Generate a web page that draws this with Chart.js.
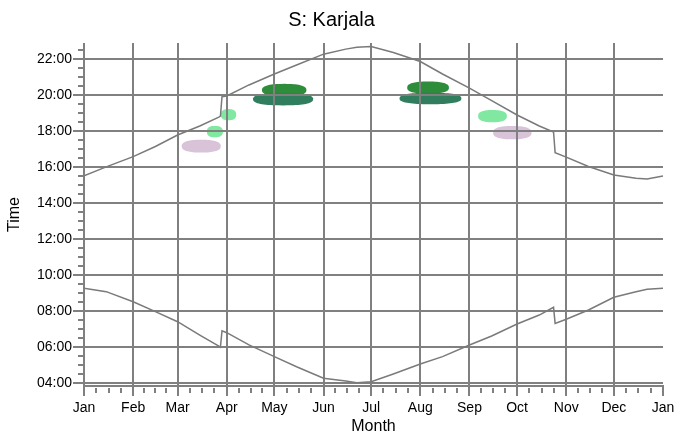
<!DOCTYPE html>
<html>
<head>
<meta charset="utf-8">
<script src="https://cdn.jsdelivr.net/npm/chart.js@4"></script>
<style>
    html, body { margin: 0; padding: 0; background: #fff; }
</style>
</head>
<body>
<canvas id="chart" width="675" height="436"></canvas>
<script>
//=================================================
//Data
//=================================================
const monthLabels = ["Jan", "Feb", "Mar", "Apr", "May", "Jun", "Jul", "Aug", "Sep", "Oct", "Nov", "Dec", "Jan"];
const monthStartDays = [0, 31, 59, 90, 120, 151, 181, 212, 243, 273, 304, 334, 365];
const timeTicks = [4, 6, 8, 10, 12, 14, 16, 18, 20, 22];

// day of year -> hours (sunset, local time)
const sunsetDays = [0, 14, 31, 45, 59, 73, 85, 86, 87, 90, 104, 120, 134, 151, 165, 172, 181, 195, 212, 226, 243, 257, 273, 287, 296, 297, 304, 318, 334, 348, 355, 365];
const sunsetTimes = [15.52, 16.02, 16.59, 17.15, 17.79, 18.29, 18.78, 18.84, 19.92, 19.96, 20.57, 21.18, 21.68, 22.28, 22.56, 22.67, 22.70, 22.37, 21.87, 21.18, 20.39, 19.70, 18.90, 18.29, 17.96, 16.81, 16.56, 16.04, 15.57, 15.39, 15.35, 15.52];

// day of year -> hours (sunrise, local time)
const sunriseDays = [0, 14, 31, 45, 59, 73, 85, 86, 87, 90, 104, 120, 134, 151, 165, 172, 181, 195, 212, 226, 243, 257, 273, 287, 296, 297, 304, 318, 334, 348, 355, 365];
const sunriseTimes = [9.28, 9.09, 8.53, 7.98, 7.42, 6.68, 6.06, 6.00, 6.91, 6.81, 6.13, 5.48, 4.92, 4.28, 4.13, 4.03, 4.09, 4.52, 5.07, 5.48, 6.13, 6.63, 7.29, 7.79, 8.22, 7.33, 7.56, 8.07, 8.78, 9.09, 9.22, 9.28];

// observation blobs: centre (day, hour) and extent (days, hours)
const blobDays = [73.9, 82.5, 91.1, 126.2, 125.5, 216.9, 218.4, 257.5, 270.0];
const blobTimes = [17.17, 17.98, 18.92, 20.28, 19.78, 20.42, 19.82, 18.84, 17.92];
const blobSpanDays = [24.6, 10.1, 9.7, 28.0, 37.9, 26.3, 39.0, 18.1, 24.2];
const blobSpanHours = [0.71, 0.63, 0.62, 0.70, 0.69, 0.68, 0.64, 0.68, 0.74];
const blobColors = ["#d8c3d8", "#80e8a0", "#80e8a0", "#2e8d3a", "#307e5e", "#2e8d3a", "#307e5e", "#80e8a0", "#d8c3d8"];

//=================================================
//Plugins
//=================================================
const GRID = "#808080";
const FONT = "'Liberation Sans', Arial, sans-serif";

// rounded, flat-topped blob (superellipse)
const blobPath = (ctx, cx, cy, rx, ry) => {
    const n = 2.5;
    ctx.beginPath();
    for (let s = 0; s <= 72; s++) {
        const t = (s / 72) * Math.PI * 2;
        const c = Math.cos(t), sn = Math.sin(t);
        const px = cx + rx * Math.sign(c) * Math.pow(Math.abs(c), 2 / n);
        const py = cy + ry * Math.sign(sn) * Math.pow(Math.abs(sn), 2 / n);
        s === 0 ? ctx.moveTo(px, py) : ctx.lineTo(px, py);
    }
    ctx.closePath();
};

const blobPlugin = {
    id: "blobs",
    beforeDraw(chart) {
        const { ctx, scales: { x, y } } = chart;
        ctx.save();
        blobDays.forEach((d, i) => {
            const cx = x.getPixelForValue(d);
            const cy = y.getPixelForValue(blobTimes[i]);
            const rx = Math.abs(x.getPixelForValue(d + blobSpanDays[i] / 2) - cx);
            const ry = Math.abs(y.getPixelForValue(blobTimes[i] + blobSpanHours[i] / 2) - cy);
            ctx.fillStyle = blobColors[i];
            blobPath(ctx, cx, cy, rx, ry);
            ctx.fill();
        });
        ctx.restore();
    },
};

const minorTickPlugin = {
    id: "minorTicks",
    afterDraw(chart) {
        const { ctx, scales: { x, y } } = chart;
        ctx.save();
        ctx.strokeStyle = GRID;
        ctx.lineWidth = 2;
        ctx.beginPath();
        for (let m = 0; m < monthStartDays.length - 1; m++) {
            const len = monthStartDays[m + 1] - monthStartDays[m];
            for (let k = 1; k < 4; k++) {
                const px = Math.round(x.getPixelForValue(monthStartDays[m] + (len * k) / 4));
                ctx.moveTo(px, y.bottom + 2);
                ctx.lineTo(px, y.bottom + 7);
            }
        }
        for (let v = 4.5; v <= 22.5; v += 0.5) {
            if (v % 2 === 0) continue;
            const py = Math.round(y.getPixelForValue(v));
            ctx.moveTo(x.left - 6, py);
            ctx.lineTo(x.left, py);
        }
        ctx.stroke();
        ctx.restore();
    },
};

//=================================================
//Chart.js
//=================================================
const toPoints = (days, times) => days.map((d, i) => ({ x: d, y: times[i] }));
const fmtTime = (v) => String(v).padStart(2, "0") + ":00";

const lineStyle = {
    borderColor: "#7a7a7a",
    borderWidth: 1.5,
    pointRadius: 0,
    fill: false,
    tension: 0,
};

new Chart(document.getElementById("chart"), {
    type: "line",
    data: {
        datasets: [
            { label: "Sunset", data: toPoints(sunsetDays, sunsetTimes), ...lineStyle },
            { label: "Sunrise", data: toPoints(sunriseDays, sunriseTimes), ...lineStyle },
        ],
    },
    options: {
        responsive: false,
        animation: false,
        layout: { padding: { right: 12 } },
        plugins: {
            legend: { display: false },
            tooltip: { enabled: false },
            title: {
                display: true,
                text: "S: Karjala",
                color: "#000",
                font: { size: 20, weight: "normal", family: FONT },
                padding: { top: 8, bottom: 11 },
            },
        },
        scales: {
            x: {
                type: "linear",
                min: 0,
                max: 365,
                afterBuildTicks: (scale) => {
                    scale.ticks = monthStartDays.map((v) => ({ value: v }));
                },
                afterFit: (scale) => {
                    scale.height = 50;
                    scale.paddingLeft = 0;
                    scale.paddingRight = 0;
                },
                ticks: {
                    autoSkip: false,
                    maxRotation: 0,
                    padding: 4,
                    color: "#000",
                    font: { size: 14, family: FONT },
                    callback: (v, i) => monthLabels[i],
                },
                grid: {
                    color: (ctx) => (ctx.tick && ctx.tick.value === 365 ? "rgba(0,0,0,0)" : GRID),
                    lineWidth: 2,
                    tickLength: 10,
                    tickColor: GRID,
                    tickWidth: 2,
                },
                border: { display: true, color: GRID, width: 2 },
                title: {
                    display: true,
                    text: "Month",
                    color: "#000",
                    font: { size: 16, family: FONT },
                    padding: { top: 0, bottom: 0 },
                },
            },
            y: {
                type: "linear",
                min: 3.85,
                max: 22.9,
                afterBuildTicks: (scale) => {
                    scale.ticks = timeTicks.map((v) => ({ value: v }));
                },
                afterFit: (scale) => {
                    scale.width = 84;
                },
                ticks: {
                    autoSkip: false,
                    padding: 1,
                    color: "#000",
                    font: { size: 14, family: FONT },
                    callback: (v) => fmtTime(v),
                },
                grid: {
                    color: GRID,
                    lineWidth: 2,
                    tickLength: 11,
                    tickColor: GRID,
                    tickWidth: 2,
                },
                border: { display: false },
                title: {
                    display: true,
                    text: "Time",
                    color: "#000",
                    font: { size: 16, family: FONT },
                    padding: { top: 5, bottom: 0 },
                },
            },
        },
    },
    plugins: [blobPlugin, minorTickPlugin],
});
</script>
</body>
</html>
